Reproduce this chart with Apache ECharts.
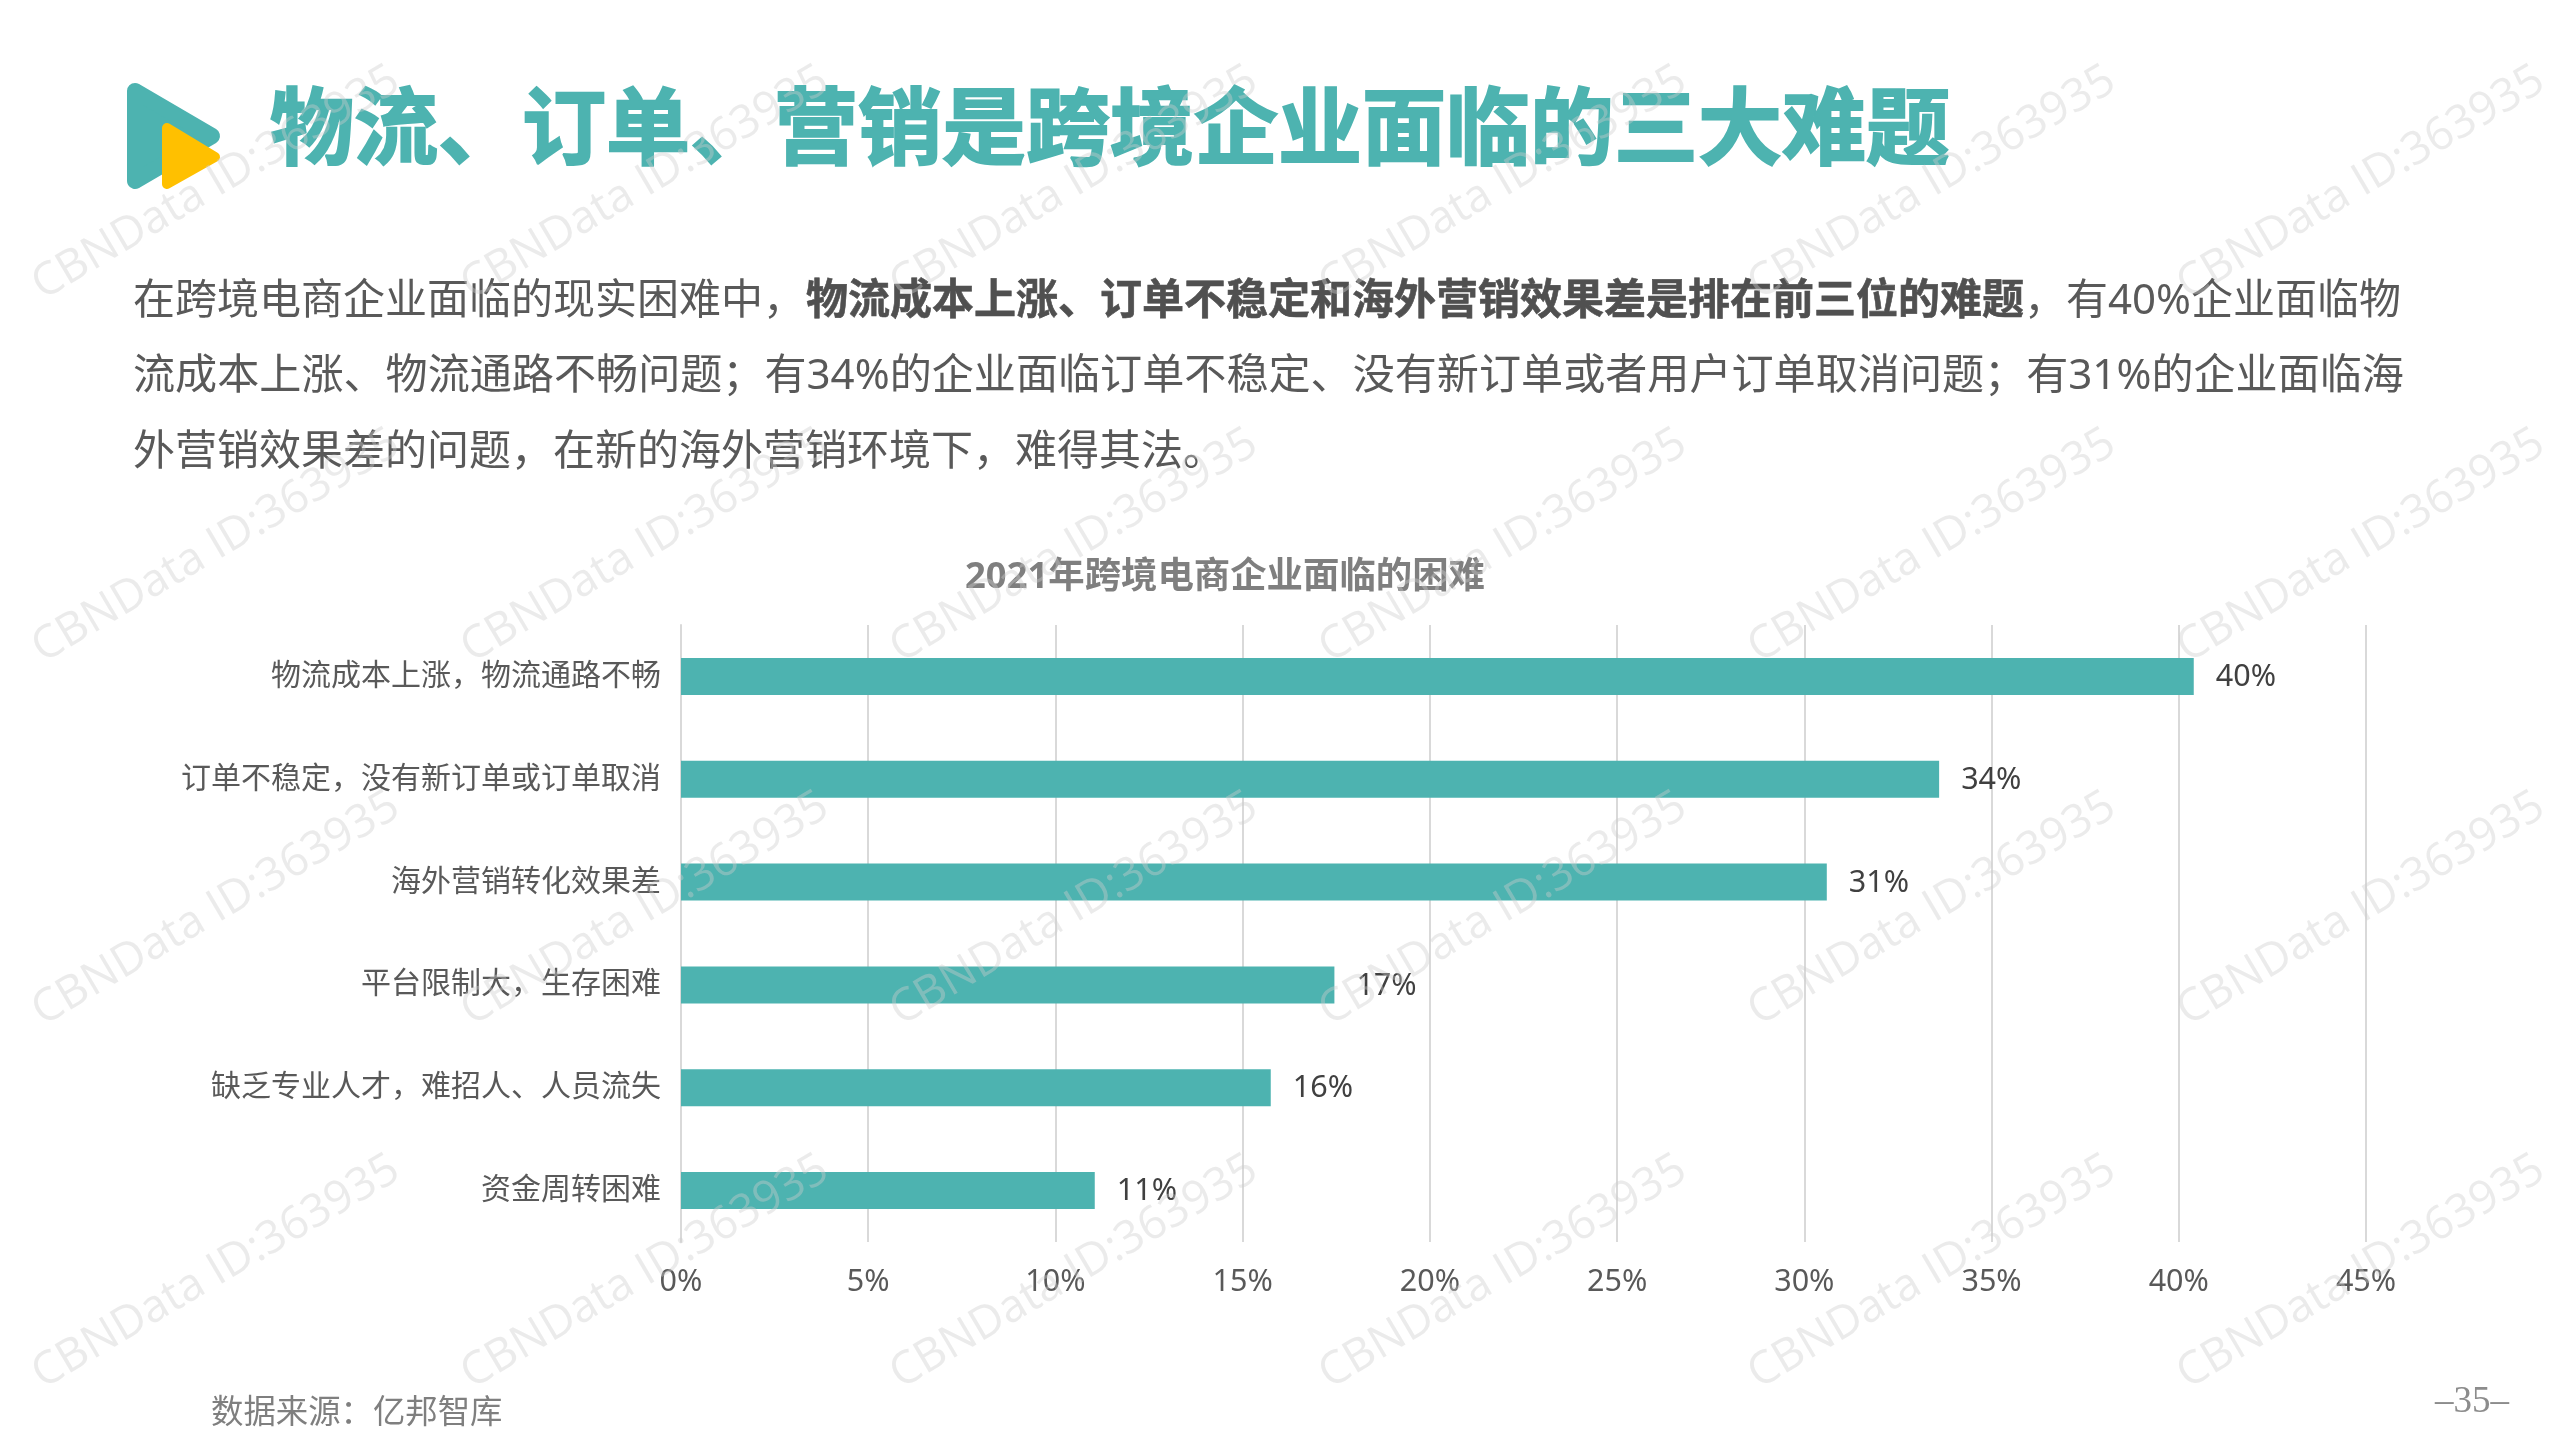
<!DOCTYPE html>
<html lang="zh">
<head>
<meta charset="utf-8">
<style>html,body{margin:0;padding:0;background:#fff}#c{width:2576px;height:1454px}</style>
<script src="https://cdn.jsdelivr.net/npm/echarts@6/dist/echarts.min.js"></script>
</head>
<body>
<div id="c"></div>
<script>
const categories = ['物流成本上涨\uFF0C物流通路不畅','订单不稳定\uFF0C没有新订单或订单取消','海外营销转化效果差','平台限制大\uFF0C生存困难','缺乏专业人才\uFF0C难招人、人员流失','资金周转困难'];
const values = [40.4, 33.6, 30.6, 17.45, 15.75, 11.05];
const valueLabels = ['40%','34%','31%','17%','16%','11%'];
const pageTitle = '物流、订单、营销是跨境企业面临的三大难题';
const chartTitle = '2021年跨境电商企业面临的困难';
const line1a = '在跨境电商企业面临的现实困难中\uFF0C';
const line1b = '物流成本上涨、订单不稳定和海外营销效果差是排在前三位的难题';
const line1c = '\uFF0C有40%企业面临物';
const line2 = '流成本上涨、物流通路不畅问题\uFF1B有34%的企业面临订单不稳定、没有新订单或者用户订单取消问题\uFF1B有31%的企业面临海';
const line3 = '外营销效果差的问题\uFF0C在新的海外营销环境下\uFF0C难得其法。';
const sourceText = '数据来源\uFF1A亿邦智库';
const pageNo = '–35–';
const wmText = 'CBNData ID:363935';
const wmCols = [216, 645, 1074, 1503, 1932, 2361];
const wmRows = [183, 546, 909, 1272];

const TEAL = '#4db3b0', CJK = '"Noto Sans","Noto Sans CJK SC",sans-serif';
const txt = (x, y, text, size, fill, weight, extra) => ({
  type: 'text', z: 5,
  style: Object.assign({x, y, text, fill, fontSize: size, fontWeight: weight || 'normal', fontFamily: CJK, verticalAlign: 'middle', align: 'left'}, extra || {})
});
const graphic = [
  {type:'polygon', z:5, shape:{points:[[135,91],[212,136],[135,181]]}, style:{fill:TEAL, stroke:TEAL, lineWidth:16, lineJoin:'round'}},
  {type:'polygon', z:6, shape:{points:[[167,128],[215,157],[167,184]]}, style:{fill:'#ffc000', stroke:'#ffc000', lineWidth:10, lineJoin:'round'}},
  txt(270, 134, pageTitle, 84, TEAL, 'bold', {stroke:TEAL, lineWidth:2}),
  txt(133, 302, line1a, 42, '#595959'),
  txt(806, 302, line1b, 42, '#505050', 'bold', {stroke:'#505050', lineWidth:0.6}),
  txt(2024, 302, line1c, 42, '#595959'),
  txt(133, 377, line2, 42.1, '#595959'),
  txt(133, 453, line3, 42, '#595959'),
  txt(965, 578, chartTitle, 36.4, '#7f7f7f', 'bold'),
  txt(211, 1414, sourceText, 32.4, '#7f7f7f'),
  txt(2435, 1402, pageNo, 37, '#8c8c8c', 'normal', {fontFamily:'"Liberation Serif",serif'})
];
wmCols.forEach(cx => wmRows.forEach(cy => graphic.push({
  type:'text', z:50, x:cx, y:cy, rotation:30.5*Math.PI/180, silent:true,
  style:{x:0, y:0, text:wmText, fontSize:45.5, fontFamily:'"Open Sans",sans-serif', fill:'rgba(205,205,205,0.40)', align:'center', verticalAlign:'middle'}
})));

const chart = echarts.init(document.getElementById('c'), null, {renderer:'canvas'});
chart.setOption({
  animation:false,
  backgroundColor:'#fff',
  grid:{left:681, top:625, width:1685, height:617, containLabel:false},
  xAxis:{type:'value', min:0, max:45, interval:5,
    axisLine:{show:false}, axisTick:{show:false},
    splitLine:{show:true, lineStyle:{color:'#d9d9d9', width:2}},
    axisLabel:{formatter:'{value}%', margin:25, fontSize:30.5, color:'#595959', fontFamily:CJK}},
  yAxis:{type:'category', data:categories, inverse:true,
    axisLine:{show:true, lineStyle:{color:'#d9d9d9', width:2}}, axisTick:{show:false},
    axisLabel:{margin:20, fontSize:30, color:'#595959', fontFamily:CJK, padding:[2,0,0,0]}},
  series:[{type:'bar', data:values, barWidth:37, itemStyle:{color:TEAL},
    label:{show:true, position:'right', distance:22, offset:[0,1], fontSize:30.5, color:'#404040', fontFamily:CJK,
      formatter:p => valueLabels[p.dataIndex]}}],
  graphic:{elements:graphic}
});
</script>
</body>
</html>
